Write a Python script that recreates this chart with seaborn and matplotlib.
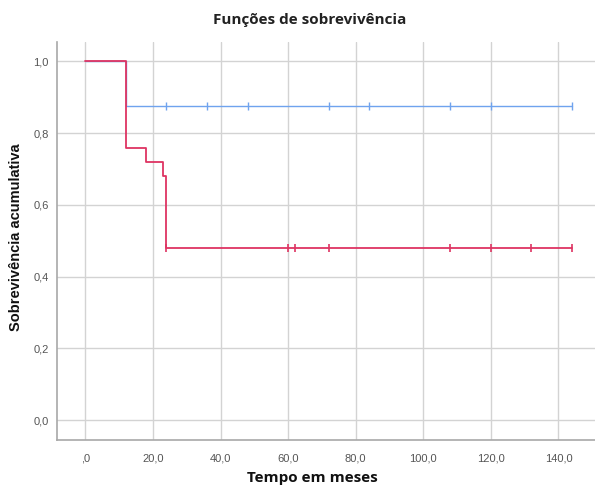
import matplotlib
matplotlib.use('Agg')
import matplotlib.pyplot as plt
import pandas as pd
import seaborn as sns

# Kaplan-Meier steps (time in months, cumulative survival)
blue_times = [0, 12, 144]
blue_surv = [1.0, 0.875, 0.875]
blue_censor = [24, 36, 48, 72, 84, 108, 120, 144]

red_times = [0, 12, 18, 23, 24, 144]
red_surv = [1.0, 0.76, 0.72, 0.68, 0.48, 0.48]
red_censor = [24, 60, 62, 72, 108, 120, 132, 144]

x_ticks = [0, 20, 40, 60, 80, 100, 120, 140]
x_labels = [',0', '20,0', '40,0', '60,0', '80,0', '100,0', '120,0', '140,0']
y_ticks = [0.0, 0.2, 0.4, 0.6, 0.8, 1.0]
y_labels = ['0,0', '0,2', '0,4', '0,6', '0,8', '1,0']

BLUE = '#6FA3EE'
RED = '#DE3462'


def censor_values(times, surv, cens):
    # survival level at each censored time (step function, right-continuous)
    out = []
    for c in cens:
        val = surv[0]
        for t, s in zip(times, surv):
            if t <= c:
                val = s
        out.append(val)
    return out


sns.set_style('white')
plt.rcParams['font.family'] = ['Liberation Sans', 'DejaVu Sans']

fig = plt.figure(figsize=(5.95, 4.87), dpi=100)
ax = fig.add_axes([0.0963, 0.0965, 0.9037, 0.818])

blue_df = pd.DataFrame({'t': blue_times, 's': blue_surv})
red_df = pd.DataFrame({'t': red_times, 's': red_surv})

sns.lineplot(data=blue_df, x='t', y='s', drawstyle='steps-post', color=BLUE,
             linewidth=1.0, estimator=None, sort=False, ax=ax)
sns.lineplot(data=red_df, x='t', y='s', drawstyle='steps-post', color=RED,
             linewidth=1.3, estimator=None, sort=False, ax=ax)

bc = pd.DataFrame({'t': blue_censor, 's': censor_values(blue_times, blue_surv, blue_censor)})
rc = pd.DataFrame({'t': red_censor, 's': censor_values(red_times, red_surv, red_censor)})
sns.scatterplot(data=bc, x='t', y='s', marker='|', s=28, color=BLUE, linewidth=1.0, ax=ax, zorder=3)
sns.scatterplot(data=rc, x='t', y='s', marker='|', s=28, color=RED, linewidth=1.2, ax=ax, zorder=4)

ax.set_xlim(-8.3, 150.8)
ax.set_ylim(-0.055, 1.055)
ax.set_xticks(x_ticks)
ax.set_xticklabels(x_labels)
ax.set_yticks(y_ticks)
ax.set_yticklabels(y_labels)
ax.grid(True, color='#D3D3D3', linewidth=1.0)
ax.set_axisbelow(True)

for side in ['top', 'right']:
    ax.spines[side].set_visible(False)
for side in ['left', 'bottom']:
    ax.spines[side].set_color('#A8A8A8')
    ax.spines[side].set_linewidth(1.2)

ax.tick_params(axis='y', length=4, color='#C8C8C8', labelsize=8, labelcolor='#555555', pad=2)
ax.tick_params(axis='x', length=0, labelsize=8, labelcolor='#555555', pad=10)
ax.set_xlabel('')
ax.set_ylabel('')

fig.text(0.52, 0.959, 'Funções de sobrevivência', ha='center', va='center',
         fontsize=11, fontweight='bold', family=['Open Sans', 'DejaVu Sans'], color='#222222')
fig.text(0.525, 0.018, 'Tempo em meses', ha='center', va='center',
         fontsize=11, fontweight='bold', family=['Open Sans', 'DejaVu Sans'], color='#111111')
fig.text(0.027, 0.513, 'Sobrevivência acumulativa', ha='center', va='center', rotation=90,
         fontsize=10.5, fontweight='bold', color='#111111')

fig.savefig('out.png', dpi=100)
